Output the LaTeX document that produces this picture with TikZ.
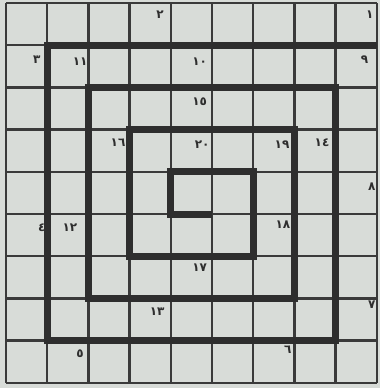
\documentclass[tikz,border=0pt]{standalone}
\usepackage{fontspec}
\usepackage{xcolor}
\newfontfamily\arabicfont[Script=Arabic]{DejaVu Sans}
\definecolor{PaperGrey}{HTML}{D8DCD8}
\definecolor{InkGrey}{HTML}{3A3A3A}
\definecolor{SpiralInk}{HTML}{2E2E2E}

\begin{document}
\begin{tikzpicture}[x=1pt, y=1pt]
    \tikzstyle{gridline} = [draw=InkGrey, line width=2.4pt]
    \tikzstyle{spiral} = [draw=SpiralInk, line width=7pt, line join=miter]
    \tikzstyle{num} = [text=SpiralInk, font=\arabicfont\bfseries\fontsize{12}{14}\selectfont, inner sep=0pt]

    % paper
    \fill[PaperGrey] (0,0) rectangle (380,-388);
    \useasboundingbox (0,0) rectangle (380,-388);

    \begin{scope}[shift={(6,-3)}, x=41.2pt, y=-42.2pt]
        % squared paper
        \foreach \k in {0,...,9} {
            \draw[gridline] (\k,0) -- (\k,9);
            \draw[gridline] (0,\k) -- (9,\k);
        }
        % spiral
        \draw[spiral] (9,1) -- (1,1) -- (1,8) -- (8,8) -- (8,2) -- (2,2) -- (2,7) -- (7,7)
            -- (7,3) -- (3,3) -- (3,6) -- (6,6) -- (6,4) -- (4,4) -- (4,5) -- (5,5);

        % numbers of the outer ring
        \node[num] (n1) at (8.83,0.28) {١};
        \node[num] (n2) at (3.74,0.28) {٢};
        \node[num] (n3) at (0.75,1.35) {٣};
        \node[num] (n4) at (0.87,5.33) {٤};
        \node[num] (n5) at (1.80,8.30) {٥};
        \node[num] (n6) at (6.84,8.22) {٦};
        \node[num] (n7) at (8.88,7.16) {٧};
        \node[num] (n8) at (8.88,4.36) {٨};
        \node[num] (n9) at (8.70,1.35) {٩};
        % second ring
        \node[num] (n10) at (4.70,1.40) {١٠};
        \node[num] (n11) at (1.80,1.40) {١١};
        \node[num] (n12) at (1.55,5.33) {١٢};
        \node[num] (n13) at (3.67,7.32) {١٣};
        \node[num] (n14) at (7.67,3.30) {١٤};
        % inner ring
        \node[num] (n15) at (4.70,2.35) {١٥};
        \node[num] (n16) at (2.72,3.32) {١٦};
        \node[num] (n17) at (4.70,6.28) {١٧};
        \node[num] (n18) at (6.72,5.26) {١٨};
        \node[num] (n19) at (6.70,3.36) {١٩};
        \node[num] (n20) at (4.76,3.36) {٢٠};
    \end{scope}
\end{tikzpicture}
\end{document}
